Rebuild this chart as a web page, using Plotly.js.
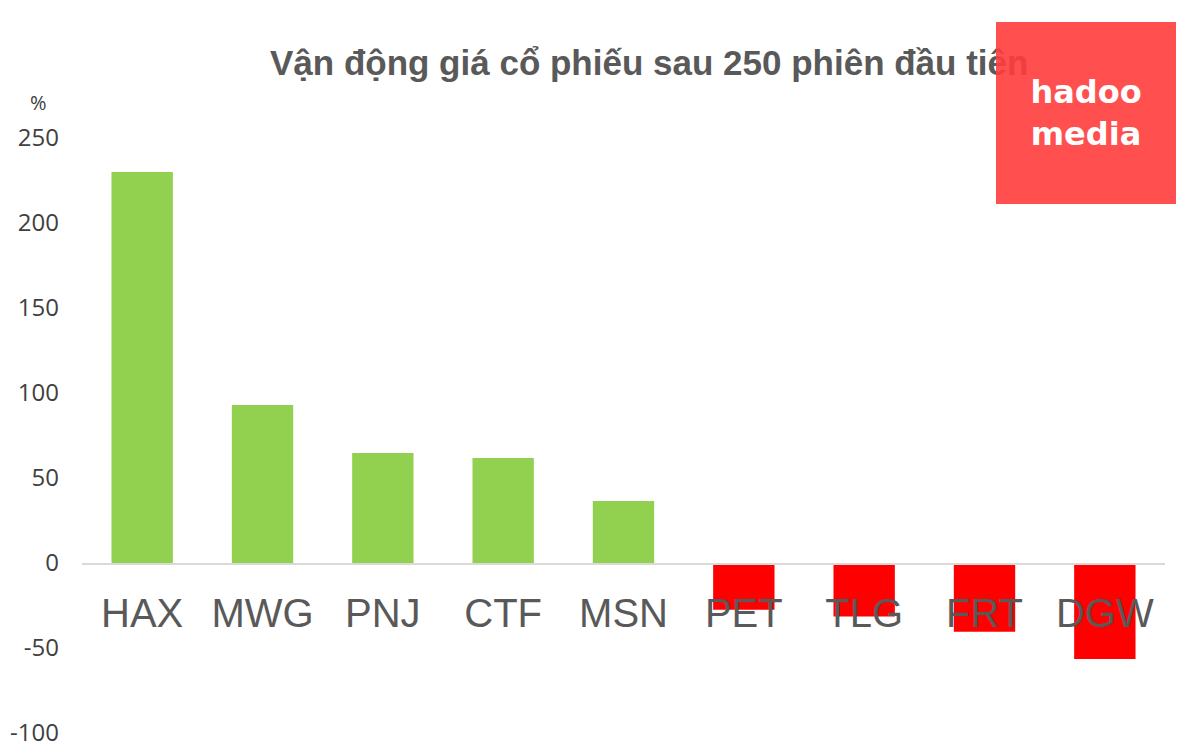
<!DOCTYPE html>
<html>
<head>
<meta charset="utf-8">
<script src="https://cdn.plot.ly/plotly-3.0.1.min.js"></script>
<style>html,body{margin:0;padding:0;background:#fff;}#chart{width:1200px;height:750px;}</style>
</head>
<body>
<div id="chart"></div>
<script>
const tickers = ["HAX", "MWG", "PNJ", "CTF", "MSN", "PET", "TLG", "FRT", "DGW"];
const changes = [230, 93, 64.7, 61.8, 36.5, -27.5, -31.5, -40.5, -56.5];
const yTicks = [-100, -50, 0, 50, 100, 150, 200, 250];
const titleText = "Vận động giá cổ phiếu sau 250 phiên đầu tiên";
const unitLabel = "%";
const logoLines = ["hadoo", "media"];

const colors = changes.map(v => v >= 0 ? "#92D050" : "#FF0000");

const trace = {
  type: "bar",
  x: tickers,
  y: changes,
  marker: {color: colors, line: {width: 0}},
  hoverinfo: "x+y"
};

const layout = {
  width: 1200, height: 750,
  margin: {l: 82, r: 35, t: 138, b: 17},
  paper_bgcolor: "#ffffff", plot_bgcolor: "#ffffff",
  showlegend: false,
  bargap: 0.49,
  title: {
    text: titleText,
    x: 0.541, xanchor: "center",
    y: 0.917, yanchor: "middle",
    font: {family: "Liberation Sans, Arial, sans-serif", size: 35, color: "#595959", weight: "bold"}
  },
  xaxis: {
    type: "category",
    anchor: "free",
    position: 100 / 350,
    showline: true, linecolor: "#D9D9D9", linewidth: 1.5,
    ticks: "", showgrid: false, zeroline: false,
    ticklabelstandoff: 14,
    tickfont: {family: "Liberation Sans, Arial, sans-serif", size: 40, color: "#595959"}
  },
  yaxis: {
    range: [-100, 250],
    tickvals: yTicks,
    ticktext: yTicks.map(String),
    showgrid: false, zeroline: false, showline: false,
    ticks: "",
    ticklabelstandoff: 22,
    tickfont: {family: "Open Sans, sans-serif", size: 24, color: "#404040"}
  },
  annotations: [
    {text: unitLabel, xref: "paper", yref: "paper", x: (38 - 82) / 1083, y: (733 - 102) / 595,
     showarrow: false, xanchor: "center", yanchor: "middle",
     font: {family: "Open Sans, sans-serif", size: 20, color: "#404040"}},
    {text: logoLines.join("<br>"), xref: "paper", yref: "paper",
     x: (996 - 82) / 1083, y: (733 - 22) / 595,
     showarrow: false, xanchor: "left", yanchor: "top", align: "center", valign: "middle",
     width: 180, height: 182, borderpad: 0, borderwidth: 0,
     bgcolor: "rgba(255,60,60,0.9)",
     font: {family: "DejaVu Sans, sans-serif", size: 32, color: "#ffffff", weight: "bold"}}
  ]
};

Plotly.newPlot("chart", [trace], layout, {displayModeBar: false, staticPlot: true});
</script>
</body>
</html>
